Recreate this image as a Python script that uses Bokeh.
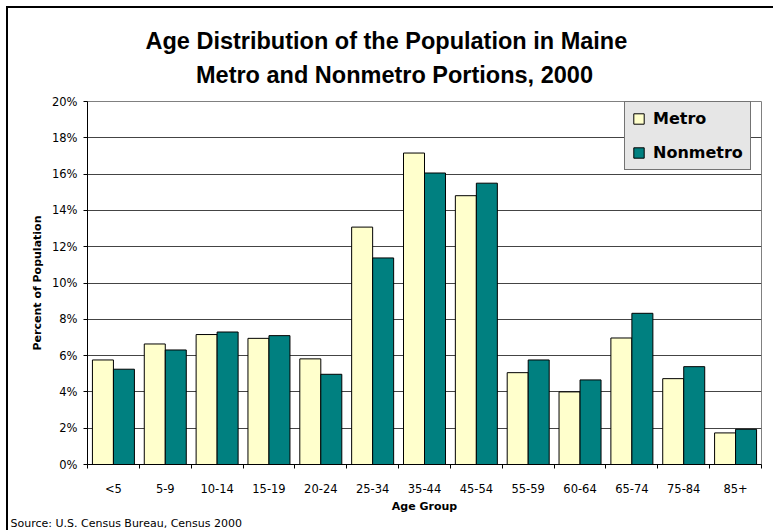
from bokeh.plotting import figure
from bokeh.models import (Range1d, FixedTicker, PrintfTickFormatter, Title,
                          ColumnDataSource, Legend, LegendItem)
from bokeh.transform import dodge
from bokeh.embed import file_html
from bokeh.resources import INLINE

# ---- data ----
age_groups = ["<5", "5-9", "10-14", "15-19", "20-24", "25-34", "35-44",
              "45-54", "55-59", "60-64", "65-74", "75-84", "85+"]
metro = [5.76, 6.64, 7.16, 6.95, 5.82, 13.08, 17.16, 14.81, 5.06, 4.00, 6.97, 4.73, 1.74]
nonmetro = [5.25, 6.31, 7.30, 7.10, 4.97, 11.38, 16.06, 15.50, 5.76, 4.66, 8.33, 5.39, 1.94]
y_ticks = [0, 2, 4, 6, 8, 10, 12, 14, 16, 18, 20]
title_1 = "Age Distribution of the Population in Maine"
title_2 = "Metro and Nonmetro Portions, 2000"
source_note = "Source: U.S. Census Bureau, Census 2000"

FONT = "DejaVu Sans"
pos = [i + 0.5 for i in range(len(age_groups))]
src = ColumnDataSource(dict(x=pos, metro=metro, nonmetro=nonmetro, label=age_groups))

p = figure(width=767, height=524, output_backend="svg", toolbar_location=None,
           x_range=Range1d(0, len(age_groups)), y_range=Range1d(0, 20),
           min_border_left=79, min_border_right=14, min_border_top=93, min_border_bottom=68,
           background_fill_color="white", border_fill_color="white",
           outline_line_color="#808080")
p.styles = {"border-left": "2px solid black", "border-top": "2px solid black",
            "margin-left": "6px", "margin-top": "6px"}

bw = 0.405
r1 = p.vbar(x=dodge("x", -bw / 2, range=p.x_range), top="metro", width=bw, source=src,
            fill_color="#FFFFCC", line_color="black", line_width=1)
r2 = p.vbar(x=dodge("x", bw / 2, range=p.x_range), top="nonmetro", width=bw, source=src,
            fill_color="#008080", line_color="black", line_width=1)

# grid
p.xgrid.visible = False
p.ygrid.ticker = FixedTicker(ticks=y_ticks)
p.ygrid.grid_line_color = "#444444"
p.ygrid.grid_line_width = 1

# x axis
xa = p.xaxis[0]
xa.ticker = FixedTicker(ticks=pos, minor_ticks=list(range(len(age_groups) + 1)))
xa.major_label_overrides = {x: lab for x, lab in zip(pos, age_groups)}
xa.major_tick_line_color = None
xa.major_tick_in = 0
xa.major_tick_out = 0
xa.minor_tick_in = 0
xa.minor_tick_out = 4
xa.minor_tick_line_color = "black"
xa.axis_line_color = "black"
xa.major_label_standoff = 13
xa.major_label_text_font = FONT
xa.major_label_text_font_size = "11.5px"
xa.major_label_text_color = "black"
xa.axis_label = "Age Group"
xa.axis_label_text_font = FONT
xa.axis_label_text_font_style = "bold"
xa.axis_label_text_font_size = "11px"
xa.axis_label_text_color = "black"
xa.axis_label_standoff = 1

# y axis
ya = p.yaxis[0]
ya.ticker = FixedTicker(ticks=y_ticks)
ya.formatter = PrintfTickFormatter(format="%d%%")
ya.major_tick_in = 0
ya.major_tick_out = 4
ya.minor_tick_line_color = None
ya.axis_line_color = "black"
ya.major_tick_line_color = "black"
ya.major_label_standoff = 6
ya.major_label_text_font = FONT
ya.major_label_text_font_size = "11.5px"
ya.major_label_text_color = "black"
ya.axis_label = "Percent of Population"
ya.axis_label_text_font = FONT
ya.axis_label_text_font_style = "bold"
ya.axis_label_text_font_size = "11px"
ya.axis_label_text_color = "black"
ya.axis_label_standoff = 5

# legend
legend = Legend(items=[LegendItem(label="Metro", renderers=[r1]),
                       LegendItem(label="Nonmetro", renderers=[r2])],
                location=(537, 294), orientation="vertical",
                background_fill_color="#E6E6E6", background_fill_alpha=1,
                border_line_color="black", border_line_width=1,
                label_text_font=FONT, label_text_font_style="bold",
                label_text_font_size="16px", label_text_color="black",
                glyph_width=13, glyph_height=13, label_height=17, label_standoff=8,
                spacing=15, padding=7, margin=0)
p.add_layout(legend, "center")

# titles (stacked above the frame) and source note (below)
p.add_layout(Title(text=title_2, align="left", offset=108.5, standoff=28,
                   text_font="Liberation Sans", text_font_style="bold",
                   text_font_size="23.5px", text_color="black"), "above")
p.add_layout(Title(text=title_1, align="left", offset=58, standoff=-16,
                   text_font="Liberation Sans", text_font_style="bold",
                   text_font_size="23.5px", text_color="black"), "above")
p.add_layout(Title(text=source_note, align="left", offset=-77, standoff=-2,
                   text_font=FONT, text_font_style="normal",
                   text_font_size="11px", text_color="black"), "below")

open("out.html", "w").write(file_html(p, INLINE))
